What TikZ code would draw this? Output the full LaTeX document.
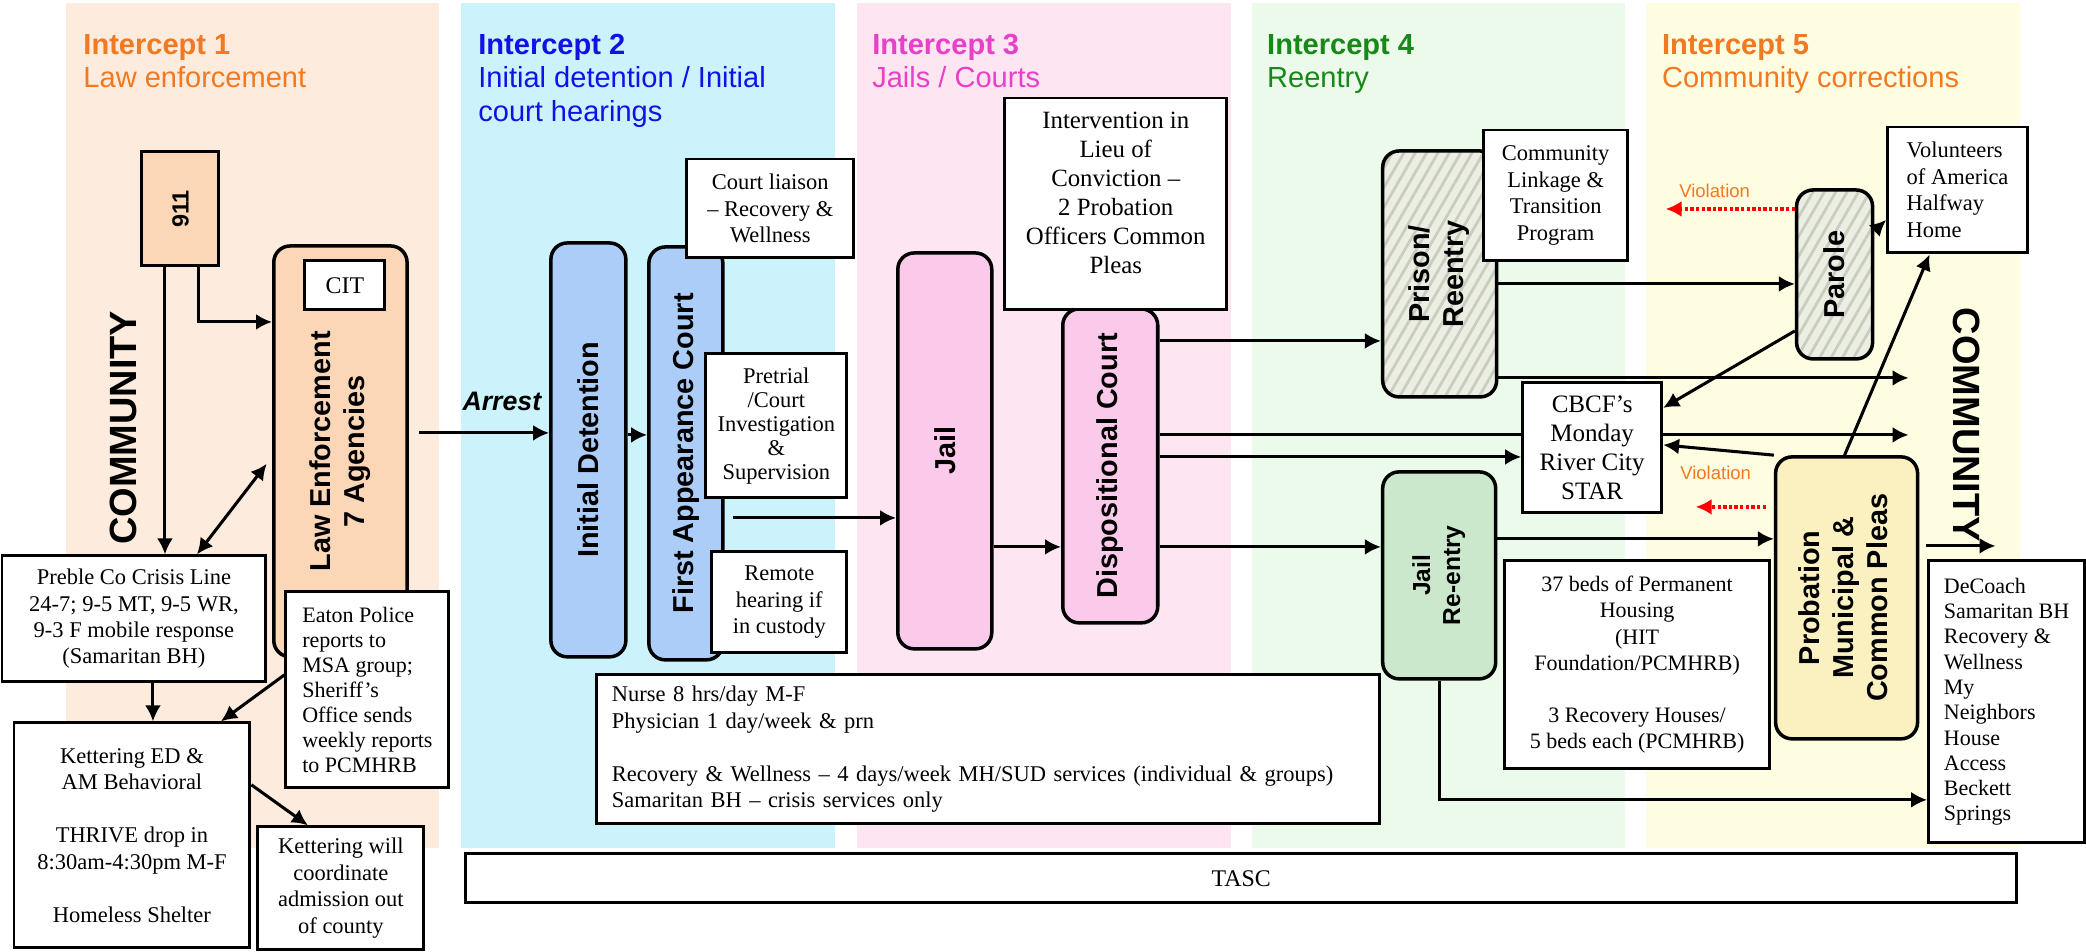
\documentclass[tikz,border=0pt]{standalone}
\usepackage{fontspec}
\setmainfont{Liberation Serif}
\setsansfont{Liberation Sans}
\usetikzlibrary{arrows.meta,patterns.meta}

\definecolor{bandpeach}{RGB}{253,236,221}
\definecolor{bandcyan}{RGB}{204,243,251}
\definecolor{bandpink}{RGB}{253,229,242}
\definecolor{bandgreen}{RGB}{235,250,235}
\definecolor{bandyellow}{RGB}{254,253,226}
\definecolor{peachbox}{RGB}{251,215,183}
\definecolor{bluebox}{RGB}{171,205,247}
\definecolor{pinkbox}{RGB}{251,202,234}
\definecolor{greenbox}{RGB}{203,232,205}
\definecolor{yellowbox}{RGB}{251,240,192}
\definecolor{hatchbg}{RGB}{236,238,228}
\definecolor{hatchline}{RGB}{200,206,190}
\definecolor{icorange}{RGB}{241,121,33}
\definecolor{icblue}{RGB}{18,18,230}
\definecolor{icmagenta}{RGB}{232,64,200}
\definecolor{icgreen}{RGB}{24,136,24}

\begin{document}
\begin{tikzpicture}[x=1.5cm,y=-1.5cm,
    txt/.style={draw=black,fill=white,line width=1.25pt,inner sep=1pt,align=center,font=\fontsize{9.6}{11.3}\selectfont},
    stage/.style={draw=black,line width=1.5pt,rounded corners=7pt,inner sep=1pt,font=\sffamily\bfseries\fontsize{12.3}{14.5}\selectfont},
    hatched/.style={stage,preaction={fill=hatchbg},preaction={pattern={Lines[angle=60,distance=4.2pt,line width=1.2pt]},pattern color=hatchline}},
    box911/.style={draw=black,fill=peachbox,line width=1.3pt,font=\sffamily\bfseries\fontsize{10}{12}\selectfont},
    heading/.style={anchor=base west,inner sep=0pt,font=\sffamily\bfseries\fontsize{12.4}{14}\selectfont},
    subheading/.style={anchor=base west,inner sep=0pt,font=\sffamily\fontsize{12.4}{14}\selectfont},
    community/.style={inner sep=0pt,font=\sffamily\bfseries\fontsize{16.2}{18}\selectfont},
    arrestlbl/.style={inner sep=0pt,font=\sffamily\bfseries\itshape\fontsize{11.4}{13}\selectfont},
    violtext/.style={text=icorange,inner sep=0pt,font=\sffamily\fontsize{7.9}{9}\selectfont},
    arr/.style={line width=1.3pt,-{Latex[length=2.4mm,width=2.4mm]}},
    darr/.style={line width=1.3pt,{Latex[length=2.4mm,width=2.4mm]}-{Latex[length=2.4mm,width=2.4mm]}},
    viol/.style={red,densely dotted,line width=1.4pt,-{Latex[length=2.4mm,width=2.4mm]}}]

    \fill[white] (0,0) rectangle (20.86,9.51);
    \fill[bandpeach] (0.66,0.03) rectangle (4.39,8.48);
    \fill[bandcyan] (4.61,0.03) rectangle (8.35,8.48);
    \fill[bandpink] (8.57,0.03) rectangle (12.31,8.48);
    \fill[bandgreen] (12.52,0.03) rectangle (16.25,8.48);
    \fill[bandyellow] (16.46,0.03) rectangle (20.20,8.48);

    \node[heading,text=icorange] (head1) at (0.83,0.55) {Intercept 1};
    \node[subheading,text=icorange] (sub1) at (0.83,0.88) {Law enforcement};
    \node[heading,text=icblue] (head2) at (4.78,0.55) {Intercept 2};
    \node[subheading,text=icblue] (sub2) at (4.78,0.88) {Initial detention / Initial};
    \node[subheading,text=icblue] (sub2b) at (4.78,1.22) {court hearings};
    \node[heading,text=icmagenta] (head3) at (8.72,0.55) {Intercept 3};
    \node[subheading,text=icmagenta] (sub3) at (8.72,0.88) {Jails / Courts};
    \node[heading,text=icgreen] (head4) at (12.67,0.55) {Intercept 4};
    \node[subheading,text=icgreen] (sub4) at (12.67,0.88) {Reentry};
    \node[heading,text=icorange] (head5) at (16.62,0.55) {Intercept 5};
    \node[subheading,text=icorange] (sub5) at (16.62,0.88) {Community corrections};

    % intercept 1
    \node[box911,minimum width=1.155cm,minimum height=1.71cm] (n911) at (1.805,2.09) {\rotatebox{90}{911}};
    \node[stage,fill=peachbox,minimum width=2cm,minimum height=6.165cm] (le) at (3.405,4.515) {\rotatebox{90}{\begin{tabular}{@{}c@{}}Law Enforcement\\7 Agencies\end{tabular}}};
    \node[txt,minimum width=1.2cm,minimum height=0.735cm,font=\fontsize{10.2}{12}\selectfont] (cit) at (3.45,2.855) {CIT};
    \node[community] (commL) at (1.23,4.28) {\rotatebox{90}{COMMUNITY}};
    \node[txt,minimum width=3.96cm,minimum height=1.89cm] (crisis) at (1.34,6.19) {Preble Co Crisis Line\\24-7; 9-5 MT, 9-5 WR,\\9-3 F mobile response\\(Samaritan BH)};
    \node[txt,align=left,minimum width=2.445cm,minimum height=2.94cm,font=\fontsize{9.4}{10.7}\selectfont] (eaton) at (3.675,6.9) {Eaton Police\\reports to\\MSA group;\\Sheriff's\\Office sends\\weekly reports\\to PCMHRB};
    \node[txt,minimum width=3.54cm,minimum height=3.375cm] (ked) at (1.32,8.355) {Kettering ED \&\\AM Behavioral\\[11.3pt]THRIVE drop in\\8:30am-4:30pm M-F\\[11.3pt]Homeless Shelter};
    \node[txt,minimum width=2.49cm,minimum height=1.845cm] (kwill) at (3.41,8.885) {Kettering will\\coordinate\\admission out\\of county};

    % intercept 2
    \node[stage,fill=bluebox,minimum width=1.125cm,minimum height=6.21cm] (initdet) at (5.885,4.5) {\rotatebox{90}{Initial Detention}};
    \node[stage,fill=bluebox,minimum width=1.11cm,minimum height=6.195cm] (firstapp) at (6.86,4.535) {\rotatebox{90}{First Appearance Court}};
    \node[txt,minimum width=2.505cm,minimum height=1.485cm] (liaison) at (7.705,2.085) {Court liaison\\-- Recovery \&\\Wellness};
    \node[txt,minimum width=2.115cm,minimum height=2.16cm,font=\fontsize{9.6}{10.2}\selectfont] (pretrial) at (7.765,4.26) {Pretrial\\/Court\\Investigation\\\&\\Supervision};
    \node[txt,minimum width=2.025cm,minimum height=1.515cm] (remote) at (7.795,6.025) {Remote\\hearing if\\in custody};
    \node[arrestlbl] (arrest) at (5.02,4.02) {Arrest};

    % intercept 3
    \node[stage,fill=pinkbox,minimum width=1.41cm,minimum height=5.94cm] (jail) at (9.45,4.51) {\rotatebox{90}{Jail}};
    \node[stage,fill=pinkbox,minimum width=1.425cm,minimum height=4.71cm] (disp) at (11.105,4.66) {\rotatebox{90}{Dispositional Court}};
    \node[txt,minimum width=3.33cm,minimum height=3.18cm,font=\fontsize{10.6}{12.4}\selectfont] (ilc) at (11.16,2.04) {Intervention in\\Lieu of\\Conviction --\\2 Probation\\Officers Common\\Pleas\\[-3pt]\mbox{}};

    % intercept 4
    \node[hatched,minimum width=1.71cm,minimum height=3.69cm] (prison) at (14.4,2.74) {\rotatebox{90}{\begin{tabular}{@{}c@{}}Prison/\\Reentry\end{tabular}}};
    \node[txt,minimum width=2.16cm,minimum height=1.965cm] (linkage) at (15.56,1.955) {Community\\Linkage \&\\Transition\\Program};
    \node[stage,fill=greenbox,minimum width=1.695cm,minimum height=3.105cm,font=\sffamily\bfseries\fontsize{10.5}{12.8}\selectfont] (jailre) at (14.395,5.755) {\rotatebox{90}{\begin{tabular}{@{}c@{}}Jail\\Re-entry\end{tabular}}};

    \coordinate (comm1) at (19.09,3.78);
    \coordinate (comm2) at (19.09,4.35);
    \coordinate (comm3) at (19.96,5.46);
    \coordinate (viol1) at (16.66,2.09);
    \coordinate (viol2) at (16.96,5.07);
    \draw[arr] (disp.east |- 0,4.35) -- (comm2);

    \node[txt,minimum width=2.085cm,minimum height=1.95cm,font=\fontsize{10.7}{12.4}\selectfont] (cbcf) at (15.925,4.48) {CBCF's\\Monday\\River City\\STAR};
    \node[txt,minimum width=3.975cm,minimum height=3.12cm,font=\fontsize{9.4}{11.2}\selectfont] (beds) at (16.375,6.65) {37 beds of Permanent\\Housing\\(HIT\\Foundation/PCMHRB)\\[11.2pt]3 Recovery Houses/\\5 beds each (PCMHRB)};

    % intercept 5
    \node[hatched,minimum width=1.14cm,minimum height=2.535cm] (parole) at (18.35,2.745) {\rotatebox{90}{Parole}};
    \node[txt,align=left,minimum width=2.1cm,minimum height=1.89cm] (voa) at (19.58,1.9) {Volunteers\\of America\\Halfway\\Home};
    \node[stage,fill=yellowbox,minimum width=2.13cm,minimum height=4.23cm] (probation) at (18.47,5.98) {\rotatebox{90}{\begin{tabular}{@{}c@{}}Probation\\Municipal \&\\Common Pleas\end{tabular}}};
    \node[txt,align=left,minimum width=2.34cm,minimum height=4.23cm,font=\fontsize{9.4}{10.8}\selectfont] (decoach) at (20.07,7.02) {DeCoach\\Samaritan BH\\Recovery \&\\Wellness\\My\\Neighbors\\House\\Access\\Beckett\\Springs};
    \node[community] (commR) at (19.67,4.25) {\rotatebox{-90}{COMMUNITY}};
    \node[violtext] (violA) at (17.15,1.91) {Violation};
    \node[violtext] (violB) at (17.16,4.73) {Violation};

    \node[txt,align=left,text width=11.295cm,inner xsep=0.225cm,minimum width=11.745cm,minimum height=2.235cm] (nurse) at (9.885,7.495) {Nurse 8 hrs/day M-F\\Physician 1 day/week \& prn\\[11.3pt]Recovery \& Wellness -- 4 days/week MH/SUD services (individual \& groups)\\Samaritan BH -- crisis services only};
    \node[txt,minimum width=23.265cm,minimum height=0.735cm,font=\fontsize{10.2}{12}\selectfont] (tasc) at (12.415,8.785) {TASC};

    \draw[arr] (n911.south -| 1.65,0) -- (crisis.north -| 1.65,0);
    \draw[arr] (n911.south -| 1.99,0) |- (le.west |- 0,3.22);
    \draw[darr,shorten >=0.13cm] (crisis.north -| 1.97,0) -- (le.west |- 0,4.57);
    \draw[arr] (crisis.south -| 1.53,0) -- (ked.north -| 1.53,0);
    \draw[arr] (eaton.west |- 0,6.75) -- (ked.north -| 2.21,0);
    \draw[arr] (ked.east |- 0,7.85) -- (kwill.north -| 3.08,0);
    \draw[arr,shorten <=0.15cm] (le.east |- 0,4.33) -- (initdet.west |- 0,4.33);
    \draw[arr] (initdet.east |- 0,4.35) -- (firstapp.west |- 0,4.35);
    \draw[arr,shorten <=0.12cm] (firstapp.east |- 0,5.18) -- (jail.west |- 0,5.18);
    \draw[arr] (jail.east |- 0,5.47) -- (disp.west |- 0,5.47);
    \draw[arr] (disp.east |- 0,3.41) -- (prison.west |- 0,3.41);
    \draw[arr] (disp.east |- 0,4.57) -- (cbcf.west |- 0,4.57);
    \draw[arr] (disp.east |- 0,5.47) -- (jailre.west |- 0,5.47);
    \draw[arr] (prison.east |- 0,2.84) -- (parole.west |- 0,2.84);
    \draw[arr] (prison.east |- 0,3.78) -- (comm1);
    \draw[arr] (parole.west |- 0,3.31) -- (cbcf.east |- 0,4.08);
    \draw[arr] (parole.east |- 0,2.31) -- (voa.west |- 0,2.20);
    \draw[viol] (parole.west |- 0,2.09) -- (viol1);
    \draw[arr] (probation.north west) -- (cbcf.east |- 0,4.45);
    \draw[viol,shorten <=0.12cm] (probation.west |- 0,5.07) -- (viol2);
    \draw[arr] (probation.north -| 18.45,0) -- (voa.south -| 19.30,0);
    \draw[arr,shorten <=0.1cm] (probation.east |- 0,5.46) -- (comm3);
    \draw[arr] (jailre.east |- 0,5.39) -- (probation.west |- 0,5.39);
    \draw[arr] (jailre.south) |- (decoach.west |- 0,8.00);

\end{tikzpicture}
\end{document}
